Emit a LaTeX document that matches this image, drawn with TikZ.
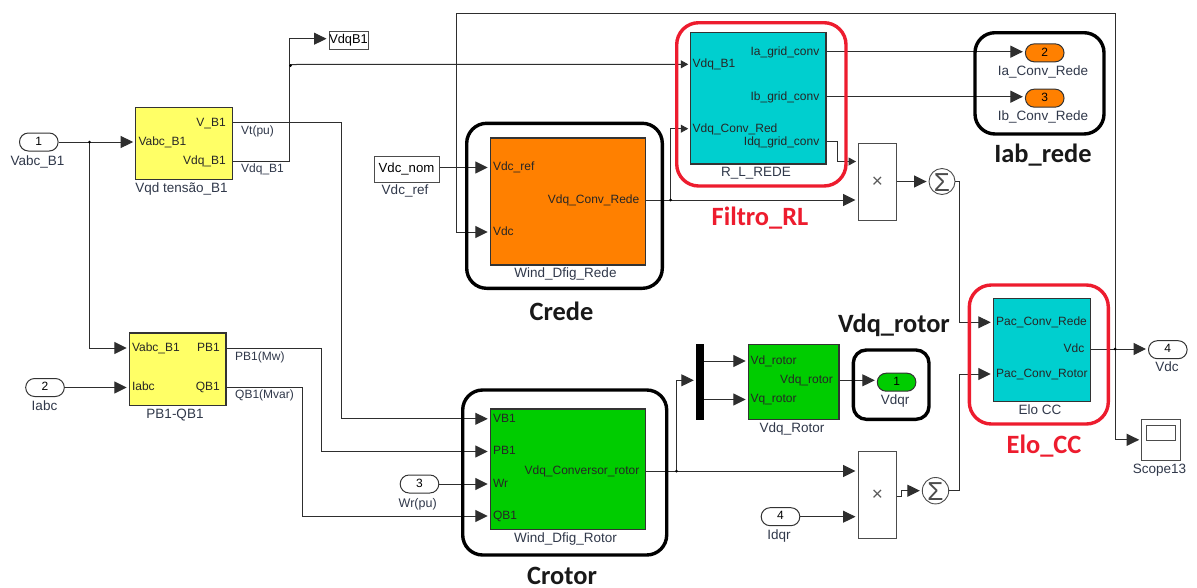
\documentclass[tikz,border=0pt]{standalone}
\usepackage{fontspec}
\setmainfont{Liberation Sans}
\newfontfamily\bigfont{Carlito}
\usetikzlibrary{arrows.meta}
\definecolor{wirec}{HTML}{2E2E2E}
\definecolor{labc}{HTML}{30384A}
\definecolor{yel}{HTML}{FFFF66}
\definecolor{org}{HTML}{FF8000}
\definecolor{cyn}{HTML}{00CFCF}
\definecolor{grn}{HTML}{00CC00}
\definecolor{redf}{HTML}{ED1C2E}
\newcommand{\sumglyph}{\raisebox{-9.5pt}[0pt][0pt]{\makebox[0pt]{\textcolor{black!70}{Σ}}}}
\tikzset{
  fs/.style={font=\fontsize{12}{13}\selectfont},
  fl/.style={font=\fontsize{13.5}{15}\selectfont},
  blockb/.style={draw=black!80,line width=1.1pt,inner sep=0pt,rectangle},
  plainb/.style={draw=black!70,line width=1pt,inner sep=0pt,rectangle,fill=white},
  prodb/.style={plainb,text=black!65,font=\fontsize{19}{19}\selectfont},
  pill/.style={draw=black!80,line width=1pt,inner sep=0pt,rectangle,rounded corners=8.9pt,
     minimum width=38.6pt,minimum height=18pt,fs},
  pl/.style={anchor=west,inner sep=0pt,text height=8.5pt,text depth=1.7pt,fs,text=black!85},
  pr/.style={anchor=east,inner sep=0pt,text height=8.5pt,text depth=1.7pt,fs,text=black!85},
  lab/.style={inner sep=0pt,text height=9.5pt,text depth=1.9pt,fl,text=labc},
  sigl/.style={inner sep=0pt,fs,text=labc,anchor=west,text height=8.5pt,text depth=1.7pt},
  wire/.style={draw=wirec,line width=1pt},
  wa/.style={wire,-{Triangle[length=12.5pt,width=12pt]},shorten >=2pt},
  was/.style={wire,-{Triangle[length=7.5pt,width=8pt]},shorten >=1.5pt},
  sumb/.style={circle,draw=black!70,line width=.9pt,inner sep=0pt,fill=white,font=\fontsize{26}{26}\selectfont},
  framek/.style={draw=black,line width=3.4pt,rounded corners=20pt,fill=none,inner sep=0pt,rectangle},
  framer/.style={draw=redf,line width=3.4pt,rounded corners=22pt,fill=none,inner sep=0pt,rectangle},
  bigk/.style={inner sep=0pt,anchor=base,font=\bigfont\bfseries\fontsize{26.4}{28}\selectfont,text=black!90},
  bigr/.style={inner sep=0pt,anchor=base,font=\bigfont\bfseries\fontsize{26.4}{28}\selectfont,text=redf},
}
\begin{document}
\begin{tikzpicture}[x=1pt,y=-1pt]
\useasboundingbox (0,0) rectangle (1197,587);
\fill[white] (0,0) rectangle (1197,587);
% blocks
\node[blockb,fill=yel,minimum width=96.6pt,minimum height=72pt] (vqd) at (184,143.3) {};
\node[blockb,fill=yel,minimum width=96.7pt,minimum height=72.3pt] (pq) at (177.65,369.15) {};
\node[blockb,fill=org,minimum width=155.4pt,minimum height=127pt] (rede) at (568,201.5) {};
\node[blockb,fill=cyn,minimum width=135.7pt,minimum height=131.7pt] (rl) at (758.15,98.15) {};
\node[blockb,fill=cyn,minimum width=97pt,minimum height=103.4pt] (elo) at (1041.8,350) {};
\node[blockb,fill=grn,minimum width=155.4pt,minimum height=120.3pt] (rotor) at (568,469.15) {};
\node[blockb,fill=grn,minimum width=90.7pt,minimum height=75pt] (vr) at (793.65,382.2) {};
\node[rectangle,fill=black,inner sep=0pt,minimum width=8pt,minimum height=75.7pt] (mux) at (700,382.15) {};
\node[prodb,minimum width=38.7pt,minimum height=77.4pt] (prod1) at (877.35,182) {×};
\node[prodb,minimum width=38.7pt,minimum height=86.6pt] (prod2) at (877.35,495) {×};
\node[sumb,minimum size=26pt] (sum1) at (942,181.5) {\sumglyph};
\node[sumb,minimum size=26.4pt] (sum2) at (935.5,490.7) {\sumglyph};
\node[plainb,minimum width=39pt,minimum height=41pt] (scope) at (1161.2,439.8) {};
\node[plainb,minimum width=29pt,minimum height=15.3pt] (screen) at (1161.2,432.65) {};
\node[plainb,minimum width=39pt,minimum height=18.3pt,font=\fontsize{12.8}{14}\selectfont] (vdqb1) at (348.5,40.15) {VdqB1};
\node[plainb,minimum width=65pt,minimum height=26pt,font=\fontsize{13.2}{15}\selectfont] (vdcnom) at (406.5,169) {Vdc\_nom};
% pills
\node[pill] (in1) at (38.8,142) {\raisebox{2pt}{1}};
\node[pill] (in2) at (45,387.5) {\raisebox{2pt}{2}};
\node[pill] (in3) at (419.5,484) {\raisebox{2pt}{3}};
\node[pill] (in4) at (780.5,516.7) {\raisebox{2pt}{4}};
\node[pill,fill=org] (out2) at (1044.7,52.85) {\raisebox{2pt}{2}};
\node[pill,fill=org] (out3) at (1044.7,98.15) {\raisebox{2pt}{3}};
\node[pill,fill=grn] (outv) at (896.6,382.2) {\raisebox{2pt}{1}};
\node[pill] (out4) at (1167.8,349.7) {\raisebox{2pt}{4}};
% port texts
\node[pl] (vqd-a) at (138.3,141.8) {Vabc\_B1};
\node[pr] (vqd-v) at (226,122.7) {V\_B1};
\node[pr] (vqd-d) at (226,161) {Vdq\_B1};
\node[pl] (pq-v) at (131.8,348) {Vabc\_B1};
\node[pl] (pq-i) at (131.8,387.3) {Iabc};
\node[pr] (pq-p) at (220,348) {PB1};
\node[pr] (pq-q) at (220,387.3) {QB1};
\node[pl] (rede-r) at (492.8,167.5) {Vdc\_ref};
\node[pl] (rede-c) at (492.8,232) {Vdc};
\node[pr] (rede-o) at (639.5,199.7) {Vdq\_Conv\_Rede};
\node[pl] (rl-b) at (692.5,64.3) {Vdq\_B1};
\node[pl] (rl-c) at (692.5,128.7) {Vdq\_Conv\_Red};
\node[pr] (rl-a) at (819.5,51.7) {Ia\_grid\_conv};
\node[pr] (rl-i) at (819.5,96.7) {Ib\_grid\_conv};
\node[pr] (rl-q) at (819.5,141.8) {Idq\_grid\_conv};
\node[pl] (elo-r) at (996,322.3) {Pac\_Conv\_Rede};
\node[pl] (elo-o) at (996,374) {Pac\_Conv\_Rotor};
\node[pr] (elo-v) at (1084.5,348.8) {Vdc};
\node[pl] (rot-v) at (492.8,418.8) {VB1};
\node[pl] (rot-p) at (492.8,451.5) {PB1};
\node[pl] (rot-w) at (492.8,483.8) {Wr};
\node[pl] (rot-q) at (492.8,516) {QB1};
\node[pr] (rot-o) at (639.5,470.8) {Vdq\_Conversor\_rotor};
\node[pl] (vr-d) at (750.3,361) {Vd\_rotor};
\node[pl] (vr-q) at (750.3,399.5) {Vq\_rotor};
\node[pr] (vr-o) at (833,380.3) {Vdq\_rotor};
% block labels
\node[lab] (l1) at (37.5,162) {Vabc\_B1};
\node[lab] (l2) at (44.5,407) {Iabc};
\node[lab] (l3) at (181.5,189) {Vqd tensão\_B1};
\node[lab] (l4) at (175,415) {PB1-QB1};
\node[lab] (l5) at (405,191) {Vdc\_ref};
\node[lab] (l6) at (565.5,274) {Wind\_Dfig\_Rede};
\node[lab] (l7) at (756,173) {R\_L\_REDE};
\node[lab] (l8) at (1043,71.5) {Ia\_Conv\_Rede};
\node[lab] (l9) at (1043,116.5) {Ib\_Conv\_Rede};
\node[lab] (l10) at (1040,410.5) {Elo CC};
\node[lab] (l11) at (1167,368) {Vdc};
\node[lab] (l12) at (1159.5,470) {Scope13};
\node[lab] (l13) at (565.5,538.5) {Wind\_Dfig\_Rotor};
\node[lab] (l14) at (792,429) {Vdq\_Rotor};
\node[lab] (l15) at (895,400.5) {Vdqr};
\node[lab] (l16) at (779,536) {Idqr};
\node[lab,font=\fontsize{12.5}{14}\selectfont] (l17) at (417.7,503.5) {Wr(pu)};
% signal labels
\node[sigl] (s1) at (241,131) {Vt(pu)};
\node[sigl] (s2) at (241,169.5) {Vdq\_B1};
\node[sigl] (s3) at (235,357) {PB1(Mw)};
\node[sigl] (s4) at (235,395.5) {QB1(Mvar)};
% junctions
\coordinate (j1) at (89.5,142);
\coordinate (j2) at (289,64.5);
\coordinate (j3) at (1115,349);
\coordinate (j4) at (670.5,200);
\coordinate (j5) at (676.5,471);
\coordinate (bq) at (289,38.7);
\coordinate (idq) at (837.3,161.5);
\coordinate (mi) at (676.5,380.3);
\coordinate (p2o) at (901.7,496.5);
% wires
\draw[wa] (in1.east) -- (vqd.west |- in1);
\draw[wa] (j1) |- (pq.west |- pq-v);
\draw[wa] (in2.east) -- (pq.west |- in2);
\draw[wa] (vqd.east |- vqd-v) -- (341,122.7) -- (341,418.8) -- (rotor.west |- rot-v);
\draw[wire] (vqd.east |- vqd-d) -| (bq);
\draw[wa] (bq) -- (vdqb1.west |- bq);
\draw[was] (j2) -- (rl.west |- rl-b);
\draw[wa] (vdcnom.east |- rede-r) -- (rede.west |- rede-r);
\draw[wa] (j3) -- (1115,13) -- (456.7,13) -- (456.7,232) -- (rede.west |- rede-c);
\draw[wa] (rede.east |- j4) -- (prod1.west |- j4);
\draw[was] (j4) |- (rl.west |- rl-c);
\draw[wa] (rl.east |- rl-a) -- (out2.west |- rl-a);
\draw[wa] (rl.east |- rl-i) -- (out3.west |- rl-i);
\draw[was] (rl.east |- rl-q) -| (idq) -- (prod1.west |- idq);
\draw[wa] (prod1.east |- sum1) -- (sum1.west);
\draw[wa] (sum1.east) -- (959.7,181.5) -- (959.7,322.3) -- (elo.west |- elo-r);
\draw[wa] (sum2.east) -- (959.7,490.7) -- (959.7,374) -- (elo.west |- elo-o);
\draw[wa] (elo.east |- j3) -- (out4.west |- j3);
\draw[wa] (j3) |- (scope.west);
\draw[wa] (pq.east |- pq-p) -- (321.7,348) -- (321.7,451.5) -- (rotor.west |- rot-p);
\draw[wa] (pq.east |- pq-q) -- (302.3,387.3) -- (302.3,516) -- (rotor.west |- rot-q);
\draw[wa] (in3.east) -- (rotor.west |- in3);
\draw[wa] (rotor.east |- j5) -- (prod2.west |- j5);
\draw[wa] (j5) -- (mi) -- (mux.west |- mi);
\draw[wa] (mux.east |- vr-d) -- (vr.west |- vr-d);
\draw[wa] (mux.east |- vr-q) -- (vr.west |- vr-q);
\draw[wa] (vr.east |- vr-o) -- (outv.west |- vr-o);
\draw[wa] (in4.east) -- (prod2.west |- in4);
\draw[wa] (prod2.east |- p2o) -- (p2o) |- (sum2.west);
\fill[black] (j1) circle (1.5pt) (290.5,65.5) circle (1.5pt) (j3) circle (1.5pt) (j4) circle (1.5pt) (j5) circle (1.5pt);
% frames
\node[framek,minimum width=195.6pt,minimum height=165pt] (fc) at (564.5,205.8) {};
\node[framek,minimum width=204pt,minimum height=165pt] (fr) at (564.7,472.5) {};
\node[framek,minimum width=129pt,minimum height=101.3pt] (fi) at (1039.5,83.35) {};
\node[framek,rounded corners=13pt,minimum width=75.7pt,minimum height=69.3pt] (fv) at (891.15,384.65) {};
\node[framer,minimum width=169.3pt,minimum height=163.3pt] (frl) at (761.35,104.35) {};
\node[framer,minimum width=139pt,minimum height=139pt] (fe) at (1038.8,354.5) {};
% big labels
\node[bigk] (t1) at (561.5,320.7) {Crede};
\node[bigk] (t2) at (562,584) {Crotor};
\node[bigk] (t3) at (894,332.7) {Vdq\_rotor};
\node[bigk] (t4) at (1043,162.7) {Iab\_rede};
\node[bigr] (t5) at (760,225) {Filtro\_RL};
\node[bigr] (t6) at (1044,453.3) {Elo\_CC};
\end{tikzpicture}
\end{document}
